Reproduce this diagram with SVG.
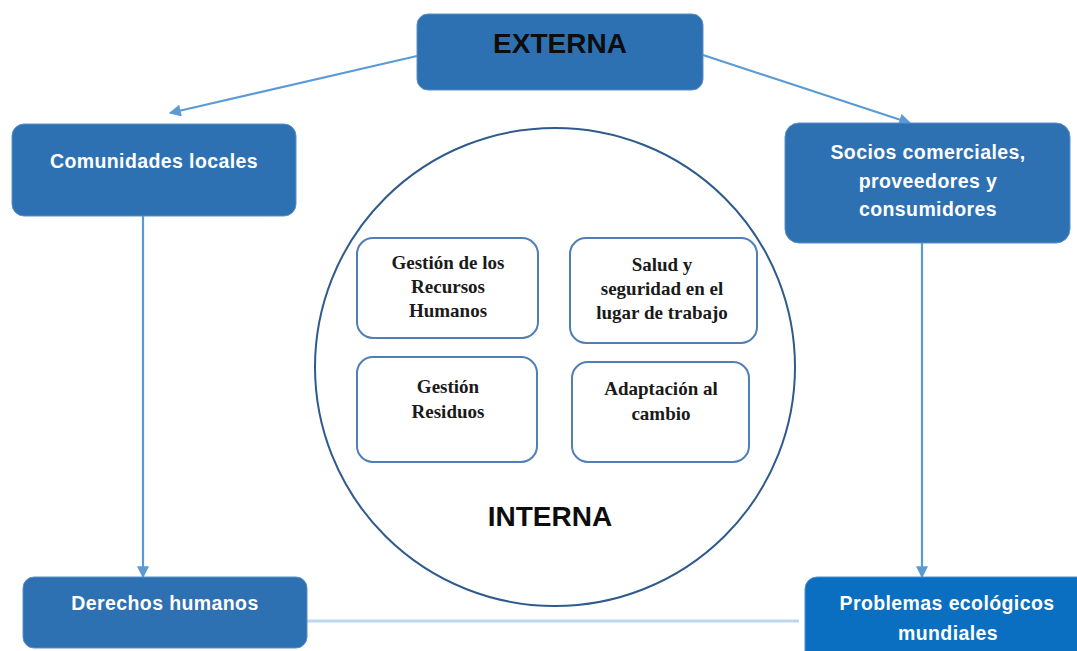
<svg xmlns="http://www.w3.org/2000/svg" width="1077" height="651" viewBox="0 0 1077 651">
<style>
.box{fill:#2e71b3;stroke:#5a8fc8;stroke-width:1}
.box2{fill:#0a6fc0;stroke:#4a8fd0;stroke-width:1}
.wt{font-family:"Liberation Sans",Arial,sans-serif;font-weight:bold;font-size:19.5px;fill:#ffffff;text-anchor:middle;letter-spacing:0.4px}
.big{font-family:"Liberation Sans",Arial,sans-serif;font-weight:bold;font-size:28px;fill:#0d0d0d;text-anchor:middle}
.inner{fill:#ffffff;stroke:#4f7fb3;stroke-width:2}
.it{font-family:"Liberation Serif","Times New Roman",serif;font-weight:bold;font-size:19px;fill:#1a1a1a;text-anchor:middle}
.conn{stroke:#5b9bd5;stroke-width:2.2;fill:none}
</style>
<defs>
<marker id="ah" viewBox="0 0 10 10" refX="9" refY="5" markerWidth="13" markerHeight="12" markerUnits="userSpaceOnUse" orient="auto">
<path d="M0,0 L10,5 L0,10 z" fill="#5b9bd5"/>
</marker>
</defs>
<rect width="1077" height="651" fill="#ffffff"/>
<g id="connectors">
<line class="conn" x1="417" y1="56" x2="170" y2="113" marker-end="url(#ah)"/>
<line class="conn" x1="703" y1="55" x2="910" y2="123" marker-end="url(#ah)"/>
<line class="conn" x1="143" y1="216" x2="143" y2="577" marker-end="url(#ah)"/>
<line class="conn" x1="922" y1="243" x2="922" y2="577" marker-end="url(#ah)"/>
<line x1="307" y1="621" x2="799" y2="621" stroke="#bdd7ee" stroke-width="3"/>
</g>
<g id="interna">
<ellipse cx="555" cy="367" rx="240" ry="239" fill="none" stroke="#2f5b8c" stroke-width="2"/>
<text class="big" x="550" y="526">INTERNA</text>
</g>
<g id="externa">
<rect class="box" x="417" y="14" width="286" height="76" rx="11"/>
<text class="big" x="560" y="53">EXTERNA</text>
</g>
<g id="comunidades">
<rect class="box" x="12" y="124" width="284" height="92" rx="12"/>
<text class="wt" x="154" y="168">Comunidades locales</text>
</g>
<g id="socios">
<rect class="box" x="785" y="123" width="285" height="120" rx="14"/>
<text class="wt" x="928" y="159">Socios comerciales,</text>
<text class="wt" x="928" y="188">proveedores y</text>
<text class="wt" x="928" y="216">consumidores</text>
</g>
<g id="derechos">
<rect class="box" x="23" y="577" width="284" height="71" rx="11"/>
<text class="wt" x="165" y="610">Derechos humanos</text>
</g>
<g id="problemas">
<rect class="box2" x="805" y="577" width="290" height="90" rx="12"/>
<text class="wt" x="947" y="610">Problemas ecológicos</text>
<text class="wt" x="948" y="640">mundiales</text>
</g>
<g id="rrhh">
<rect class="inner" x="357" y="238" width="181" height="100" rx="16"/>
<text class="it" x="448" y="269">Gestión de los</text>
<text class="it" x="448" y="293">Recursos</text>
<text class="it" x="448" y="317">Humanos</text>
</g>
<g id="salud">
<rect class="inner" x="570" y="238" width="187" height="105" rx="16"/>
<text class="it" x="662" y="271">Salud y</text>
<text class="it" x="662" y="295">seguridad en el</text>
<text class="it" x="662" y="319">lugar de trabajo</text>
</g>
<g id="residuos">
<rect class="inner" x="357" y="357" width="180" height="105" rx="16"/>
<text class="it" x="448" y="393">Gestión</text>
<text class="it" x="448" y="418">Residuos</text>
</g>
<g id="adaptacion">
<rect class="inner" x="572" y="362" width="177" height="100" rx="16"/>
<text class="it" x="661" y="395">Adaptación al</text>
<text class="it" x="661" y="420">cambio</text>
</g>
</svg>
